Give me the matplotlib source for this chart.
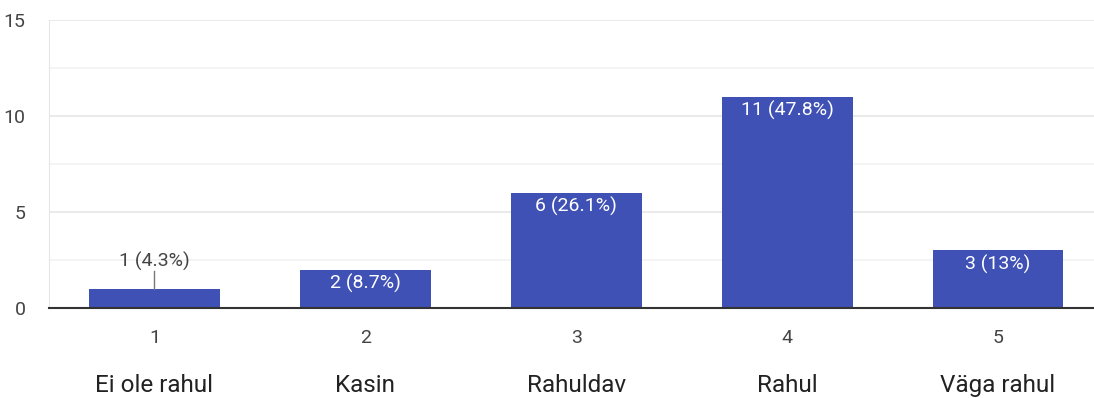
import matplotlib
matplotlib.use("Agg")
import matplotlib.pyplot as plt
from matplotlib.ticker import MultipleLocator

plt.rcParams["font.family"] = ["Roboto", "DejaVu Sans"]

# survey answers on a 1-5 scale
scores = [1, 2, 3, 4, 5]
counts = [1, 2, 6, 11, 3]
percents = ["4.3", "8.7", "26.1", "47.8", "13"]
names = ["Ei ole rahul", "Kasin", "Rahuldav", "Rahul", "Väga rahul"]

bar_color = "#3F51B5"
text_gray = "#444444"

fig = plt.figure(figsize=(10.94, 3.98), dpi=100)
ax = fig.add_axes([49 / 1094, 90 / 398, 1054.5 / 1094, 288 / 398])

ax.bar(scores, counts, width=0.62, color=bar_color, zorder=3)
ax.set_xlim(0.5, 5.5)
ax.set_ylim(0, 15)

ax.yaxis.set_major_locator(MultipleLocator(5))
ax.yaxis.set_minor_locator(MultipleLocator(2.5))
ax.grid(axis="y", which="major", color="#e6e6e6", lw=1.2, zorder=0)
ax.grid(axis="y", which="minor", color="#f2f2f2", lw=1.2, zorder=0)
ax.set_xticks(scores)
ax.tick_params(axis="both", which="both", length=0, labelsize=14,
               labelcolor=text_gray)
ax.tick_params(axis="x", pad=15)
ax.tick_params(axis="y", pad=17)

for side in ("top", "right"):
    ax.spines[side].set_visible(False)
ax.spines["left"].set_color("#e6e6e6")
ax.spines["bottom"].set_color("#333333")
ax.spines["bottom"].set_linewidth(1.5)
ax.spines["bottom"].set_zorder(4)

for x, c, p in zip(scores, counts, percents):
    label = f"{c} ({p}%)"
    if c < 2:
        ax.plot([x, x], [c, c + 0.95], color="#777777", lw=1, zorder=4)
        ax.text(x, c + 0.95, label, ha="center", va="bottom", fontsize=14,
                color=text_gray)
    else:
        ax.text(x, c - 0.22, label, ha="center", va="top", fontsize=14,
                color="white", zorder=5)

for x, n in zip(scores, names):
    ax.text(x, -0.27, n, transform=ax.get_xaxis_transform(), ha="center",
            va="center", fontsize=17.5, color="#222222")

fig.savefig("out.png", dpi=100)
